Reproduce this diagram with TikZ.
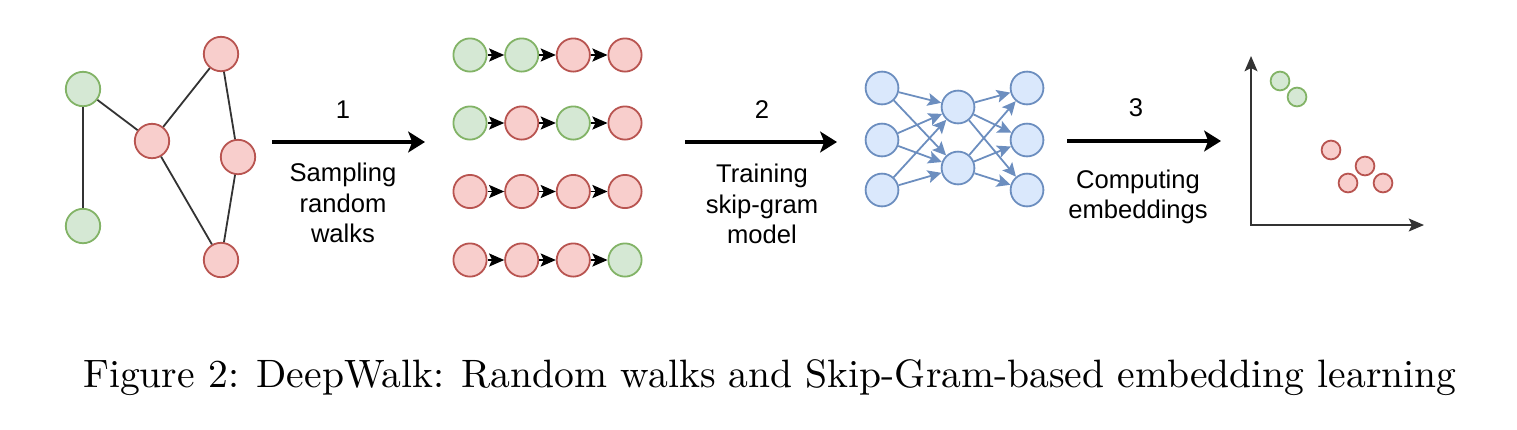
\documentclass[tikz,border=0pt]{standalone}
\usepackage{fontspec}
\newfontfamily\labelfont{Liberation Sans}
\usetikzlibrary{arrows.meta}
\definecolor{gfill}{HTML}{D5E8D4}
\definecolor{gdraw}{HTML}{82B366}
\definecolor{rfill}{HTML}{F8CECC}
\definecolor{rdraw}{HTML}{B85450}
\definecolor{bfill}{HTML}{DAE8FC}
\definecolor{bdraw}{HTML}{6C8EBF}
\definecolor{edgegray}{HTML}{333333}
\begin{document}
\begin{tikzpicture}[x=0.25pt,y=-0.25pt,
  base/.style={circle,line width=0.45pt,inner sep=0pt},
  gnode/.style={base,draw=gdraw,fill=gfill,minimum size=8.6pt},
  rnode/.style={base,draw=rdraw,fill=rfill,minimum size=8.6pt},
  gwalk/.style={base,draw=gdraw,fill=gfill,minimum size=8.3pt},
  rwalk/.style={base,draw=rdraw,fill=rfill,minimum size=8.3pt},
  nnode/.style={base,draw=bdraw,fill=bfill,minimum size=8.2pt},
  gdot/.style={base,draw=gdraw,fill=gfill,minimum size=4.7pt},
  rdot/.style={base,draw=rdraw,fill=rfill,minimum size=4.7pt},
  edge/.style={draw=edgegray,line width=0.45pt},
  bigarrow/.style={draw=black,line width=0.8pt,-{Stealth[length=4.2pt,width=5.2pt,inset=1pt]}},
  walkarrow/.style={draw=black,line width=0.3pt,-{Stealth[length=3.8pt,width=3.3pt,inset=0.8pt]}},
  nnarrow/.style={draw=bdraw,line width=0.45pt,-{Stealth[length=3.4pt,width=3.2pt,inset=0.7pt]}},
  axis/.style={draw=edgegray,line width=0.6pt,{Stealth[length=3.8pt,width=3.2pt,inset=0.8pt]}-{Stealth[length=3.8pt,width=3.2pt,inset=0.8pt]}},
  lbl/.style={font=\labelfont\fontsize{6.4}{7.6}\selectfont,align=center,inner sep=0pt},
  captext/.style={font=\fontsize{9.9}{12}\selectfont,inner sep=0pt}
]
\useasboundingbox (0,0) rectangle (1517,429);

% graph
\node[gnode] (g1) at (83,89) {};
\node[gnode] (g2) at (83,226) {};
\node[rnode] (rc) at (152,141) {};
\node[rnode] (rt) at (221,54) {};
\node[rnode] (rr) at (238,157) {};
\node[rnode] (rb) at (221,260) {};
\draw[edge] (g1) -- (g2);
\draw[edge] (g1) -- (rc);
\draw[edge] (rc) -- (rt);
\draw[edge] (rt) -- (rr);
\draw[edge] (rr) -- (rb);
\draw[edge] (rc) -- (rb);

% step 1
\coordinate (a1s) at (272,142);
\coordinate (a1e) at (425,142);
\draw[bigarrow] (a1s) -- (a1e);
\node[lbl] (n1) at (343,110) {1};
\node[lbl] (t1) at (343,203) {Sampling\\random\\walks};

% walks
\foreach \row/\y/\a/\b/\c/\d in {1/55/g/g/r/r, 2/123/g/r/g/r, 3/191.5/r/r/r/r, 4/260/r/r/r/g}{
  \node[\a walk] (w\row1) at (470,\y) {};
  \node[\b walk] (w\row2) at (521.7,\y) {};
  \node[\c walk] (w\row3) at (573.3,\y) {};
  \node[\d walk] (w\row4) at (625,\y) {};
  \draw[walkarrow] (w\row1) -- (w\row2);
  \draw[walkarrow] (w\row2) -- (w\row3);
  \draw[walkarrow] (w\row3) -- (w\row4);
}

% step 2
\coordinate (a2s) at (685,142);
\coordinate (a2e) at (837,142);
\draw[bigarrow] (a2s) -- (a2e);
\node[lbl] (n2) at (762,110) {2};
\node[lbl] (t2) at (762,204) {Training\\skip-gram\\model};

% neural network
\node[nnode] (i1) at (882,88) {};
\node[nnode] (i2) at (882,140) {};
\node[nnode] (i3) at (882,190) {};
\node[nnode] (h1) at (958,107) {};
\node[nnode] (h2) at (958,168) {};
\node[nnode] (o1) at (1027,88) {};
\node[nnode] (o2) at (1027,140) {};
\node[nnode] (o3) at (1027,190) {};
\foreach \i in {i1,i2,i3}{
  \foreach \h in {h1,h2}{ \draw[nnarrow] (\i) -- (\h); }
}
\foreach \h in {h1,h2}{
  \foreach \o in {o1,o2,o3}{ \draw[nnarrow] (\h) -- (\o); }
}

% step 3
\coordinate (a3s) at (1067,141);
\coordinate (a3e) at (1221,141);
\draw[bigarrow] (a3s) -- (a3e);
\node[lbl] (n3) at (1136,108) {3};
\node[lbl] (t3) at (1138,197) {Computing\\embeddings};

% embedding plot
\coordinate (ytip) at (1251,56);
\coordinate (orig) at (1251,225);
\coordinate (xtip) at (1424,225);
\draw[axis] (ytip) -- (orig) -- (xtip);
\node[gdot] (e1) at (1280,81) {};
\node[gdot] (e2) at (1297,97) {};
\node[rdot] (e3) at (1331,150) {};
\node[rdot] (e4) at (1365,166) {};
\node[rdot] (e5) at (1348,183) {};
\node[rdot] (e6) at (1383,183) {};

% caption
\node[captext,anchor=base] (caption) at (770,387) {Figure 2: DeepWalk: Random walks and Skip-Gram-based embedding learning};
\end{tikzpicture}
\end{document}
